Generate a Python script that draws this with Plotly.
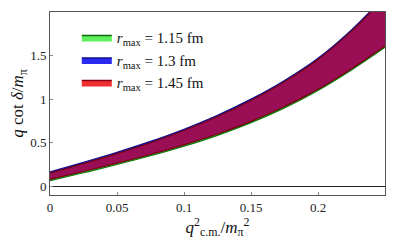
import plotly.graph_objects as go

q2 = [0, 0.025, 0.05, 0.075, 0.1, 0.125, 0.15, 0.175, 0.2, 0.225, 0.25]

# r_max = 1.45 fm band
red_upper = [0.15, 0.26, 0.375, 0.50, 0.64, 0.80, 0.985, 1.20, 1.455, 1.78, 2.17]
red_lower = [0.08, 0.17, 0.265, 0.365, 0.475, 0.60, 0.745, 0.915, 1.115, 1.35, 1.61]
# r_max = 1.3 fm band
blue_upper = [0.165, 0.275, 0.39, 0.515, 0.655, 0.815, 1.0, 1.215, 1.47, 1.795, 2.185]
blue_lower = [0.09, 0.18, 0.275, 0.375, 0.485, 0.61, 0.755, 0.925, 1.125, 1.36, 1.62]
# r_max = 1.15 fm band
green_upper = [0.14, 0.25, 0.365, 0.49, 0.63, 0.79, 0.975, 1.19, 1.445, 1.77, 2.16]
green_lower = [0.065, 0.155, 0.25, 0.35, 0.46, 0.585, 0.73, 0.90, 1.10, 1.335, 1.595]

legend_labels = ["<i>r</i><sub>max</sub> = 1.15 fm",
                 "<i>r</i><sub>max</sub> = 1.3 fm",
                 "<i>r</i><sub>max</sub> = 1.45 fm"]

xticks = [0, 0.05, 0.1, 0.15, 0.2]
xticklabels = ["0", "0.05", "0.1", "0.15", "0.2"]
yticks = [0, 0.5, 1, 1.5]
yticklabels = ["0", "0.5", "1", "1.5"]

FONT = "Liberation Serif, DejaVu Serif, serif"

fig = go.Figure()

bands = [
    (green_lower, green_upper, "#0a7a0a", "#3ad13a"),
    (blue_lower, blue_upper, "#10108a", "#1a1ae0"),
    (red_lower, red_upper, "#7a0010", "#990e55"),
]
for lo, up, lc, fc in bands:
    fig.add_trace(go.Scatter(x=q2, y=lo, mode="lines",
                             line=dict(color=lc, width=1.2, shape="spline", smoothing=1.0),
                             showlegend=False, hoverinfo="skip"))
    fig.add_trace(go.Scatter(x=q2, y=up, mode="lines",
                             line=dict(color=lc, width=1.2, shape="spline", smoothing=1.0),
                             fill="tonexty", fillcolor=fc, showlegend=False, hoverinfo="skip"))

legend_cols = [("#0a6a0a", "#5ef05e"), ("#10108a", "#2a2af0"), ("#8a0010", "#f03030")]
for lab, (lc, fc) in zip(legend_labels, legend_cols):
    fig.add_trace(go.Scatter(x=[None], y=[None], mode="lines", name=lab,
                             line=dict(color=lc, width=1.5), fill="toself", fillcolor=fc))

fig.update_layout(
    width=389, height=237,
    margin=dict(l=42, r=12, t=4, b=50),
    plot_bgcolor="white", paper_bgcolor="white",
    font=dict(family=FONT, size=13, color="#222"),
    showlegend=True,
    legend=dict(x=0.08, y=0.95, xanchor="left", yanchor="top", traceorder="normal",
                bgcolor="rgba(0,0,0,0)", font=dict(size=15, family=FONT, color="#111"),
                tracegroupgap=0, itemwidth=30),
    xaxis=dict(range=[0, 0.25], tickvals=xticks, ticktext=xticklabels,
               ticks="inside", ticklen=3, tickcolor="#888", automargin=False,
               showline=True, linecolor="#555", linewidth=1, mirror=True,
               showgrid=False, zeroline=False,
               title=dict(text="<i>q</i><sup>2</sup><sub>c.m.</sub>/<i>m</i><sub>π</sub><sup>2</sup>",
                          font=dict(size=17, family=FONT, color="#111"), standoff=6)),
    yaxis=dict(range=[-0.1, 2.0], tickvals=yticks, ticktext=yticklabels,
               ticks="inside", ticklen=3, tickcolor="#888", automargin=False,
               showline=True, linecolor="#555", linewidth=1, mirror=True,
               showgrid=False, zeroline=True, zerolinecolor="#222", zerolinewidth=1,
               title=dict(text="<i>q</i> cot <i>δ</i>/<i>m</i><sub>π</sub>",
                          font=dict(size=17, family=FONT, color="#111"), standoff=4)),
)

fig.write_html("out.html")
